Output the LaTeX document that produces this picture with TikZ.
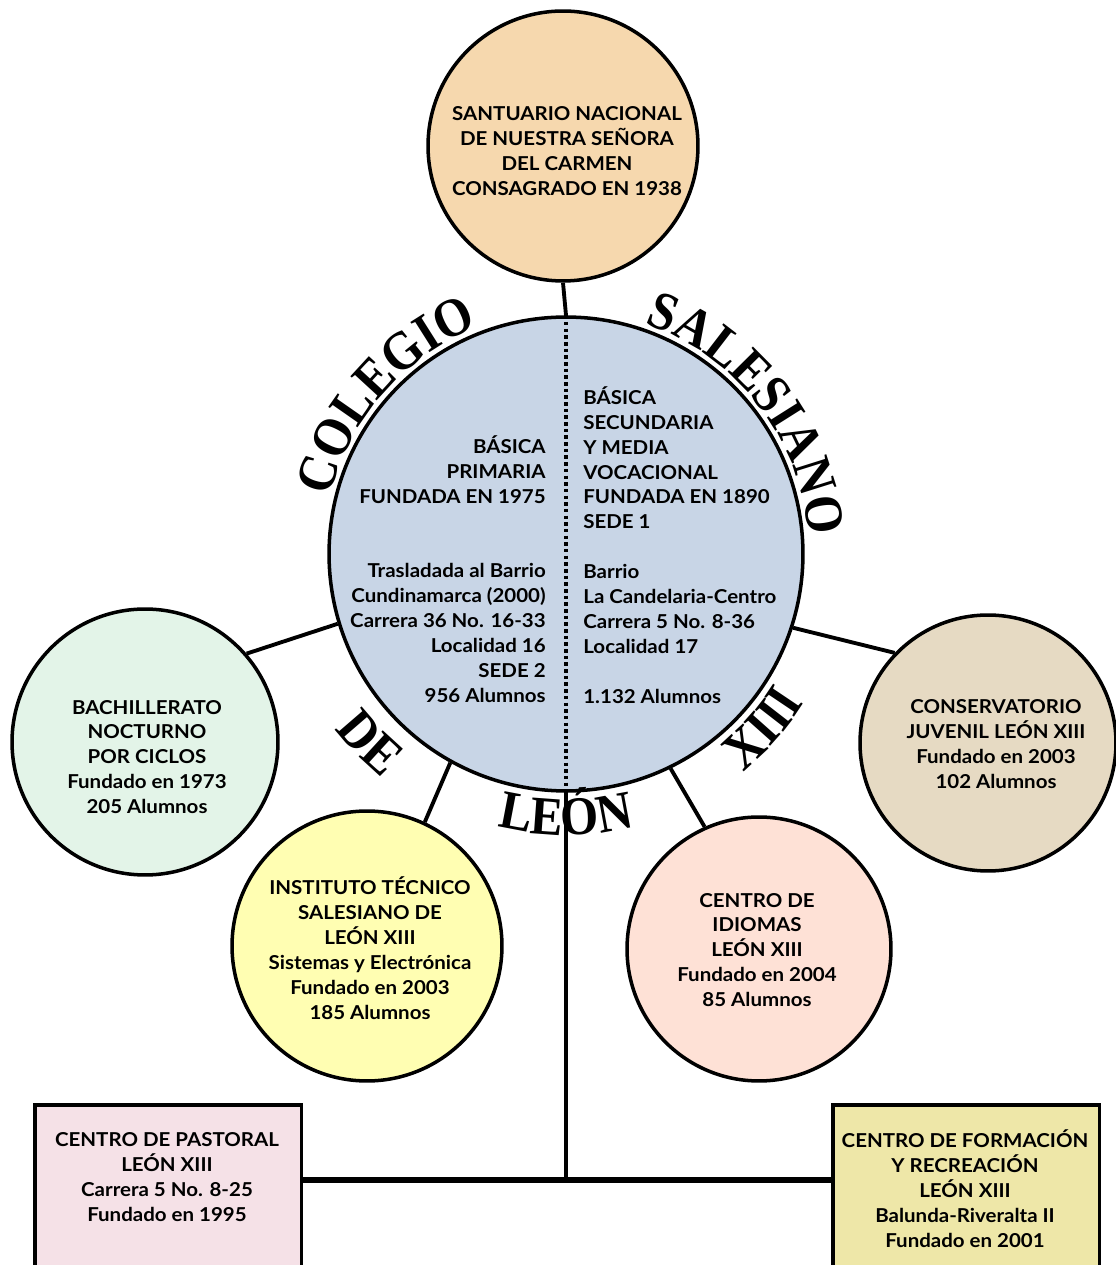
\documentclass[tikz,border=0pt]{standalone}
\usepackage{fontspec}
\setmainfont{Lato}[FakeStretch=1.07]
\newfontfamily\arcfont{Liberation Serif}[FakeStretch=0.9]
\usetikzlibrary{decorations.text,calc}
\definecolor{cTop}{RGB}{246,216,174}
\definecolor{cCen}{RGB}{200,213,230}
\definecolor{cLeft}{RGB}{227,244,232}
\definecolor{cRight}{RGB}{230,218,195}
\definecolor{cYel}{RGB}{255,254,178}
\definecolor{cPink}{RGB}{254,225,214}
\definecolor{cBoxL}{RGB}{245,225,231}
\definecolor{cBoxR}{RGB}{238,231,168}
\newcommand{\bodytxt}{\bfseries\fontsize{10.9}{14.2}\selectfont}
\newcommand{\arctxt}{\arcfont\bfseries\fontsize{31}{33}\selectfont}
\begin{document}
\begin{tikzpicture}[x=0.02cm,y=0.02cm,
  circ/.style={circle,draw,line width=2pt,inner sep=0pt},
  boxx/.style={rectangle,draw,line width=2pt,inner sep=0pt,anchor=north west,minimum width=5.34cm,minimum height=4cm},
  txt/.style={align=center,font=\bodytxt,inner sep=0pt},
  conn/.style={line width=2.2pt},
  arcw/.style={decorate,decoration={text along path,text align=center,text={#1}}}
]
\clip (0,0) rectangle (1116,1265);
% circles
\node[circ,fill=cTop,minimum size=5.4cm] (top) at (563,1119) {};
\node[circ,fill=cCen,minimum size=9.48cm] (cen) at (566,711) {};
\node[circ,fill=cLeft,minimum size=5.32cm] (left) at (145,523) {};
\node[circ,fill=cRight,minimum size=5.12cm] (right) at (988,522) {};
\node[circ,fill=cYel,minimum size=5.4cm] (yel) at (367,319) {};
\node[circ,fill=cPink,minimum size=5.28cm] (pink) at (759,316) {};
% boxes
\node[boxx,fill=cBoxL] (boxL) at (33,162) {};
\node[boxx,fill=cBoxR] (boxR) at (831,162) {};
\coordinate (hub) at (566,85);
% connectors
\draw[conn] (top.south) -- (cen.north);
\draw[conn] (cen.197.8) -- (left.41);
\draw[conn] (cen.342.7) -- (right.136);
\draw[conn] (cen.241.8) -- (yel.65);
\draw[conn] (cen.296.7) -- (pink.114);
\draw[line width=2.3pt,dash pattern=on 2pt off 1.8pt] (cen.north) -- (cen.south);
% arc words
\path[arcw={|\arctxt|COLEGIO}] ($(cen)+(178.7:243)$) arc[start angle=178.7,end angle=98.7,radius=243];
\path[arcw={|\arctxt|SALESIANO}] ($(cen)+(77.7:243)$) arc[start angle=77.7,end angle=-2.3,radius=243];
\path[arcw={|\arctxt|DE}] ($(cen)+(204:290)$) arc[start angle=204,end angle=244,radius=290];
\path[arcw={|\arctxt|LEÓN}] ($(cen)+(250:281)$) arc[start angle=250,end angle=290,radius=281];
\path[arcw={|\arctxt|XIII}] ($(cen)+(298.6:281)$) arc[start angle=298.6,end angle=338.6,radius=281];
\draw[line width=1.8pt] (cen.south) -- (hub);
\draw[line width=3pt] (hub -| boxL.east) -- (hub -| boxR.west);
% texts
\node[txt] (topT) at (567,1114) {SANTUARIO NACIONAL\\DE NUESTRA SEÑORA\\DEL CARMEN\\CONSAGRADO EN 1938};
\node[txt,align=right,anchor=north east] (colL) at (546,830) {BÁSICA\\PRIMARIA\\FUNDADA EN 1975\\[28.4pt]Trasladada al Barrio\\Cundinamarca (2000)\\Carrera 36 No. 16-33\\Localidad 16\\SEDE 2\\956 Alumnos};
\node[txt,align=left,anchor=north west] (colR) at (583,879) {BÁSICA\\SECUNDARIA\\Y MEDIA\\VOCACIONAL\\FUNDADA EN 1890\\SEDE 1\\[14.2pt]Barrio\\La Candelaria-Centro\\Carrera 5 No. 8-36\\Localidad 17\\[14.2pt]1.132 Alumnos};
\node[txt] (leftT) at (147,508) {BACHILLERATO\\NOCTURNO\\POR CICLOS\\Fundado en 1973\\205 Alumnos};
\node[txt] (rightT) at (996,521) {CONSERVATORIO\\JUVENIL LEÓN XIII\\Fundado en 2003\\102 Alumnos};
\node[txt] (yelT) at (370,317) {INSTITUTO TÉCNICO\\SALESIANO DE\\LEÓN XIII\\Sistemas y Electrónica\\Fundado en 2003\\185 Alumnos};
\node[txt] (pinkT) at (757,315) {CENTRO DE\\IDIOMAS\\LEÓN XIII\\Fundado en 2004\\85 Alumnos};
\node[txt] (boxLT) at (167,88) {CENTRO DE PASTORAL\\LEÓN XIII\\Carrera 5 No. 8-25\\Fundado en 1995};
\node[txt] (boxRT) at (965,76) {CENTRO DE FORMACIÓN\\Y RECREACIÓN\\LEÓN XIII\\Balunda-Riveralta II\\Fundado en 2001};
\end{tikzpicture}
\end{document}
